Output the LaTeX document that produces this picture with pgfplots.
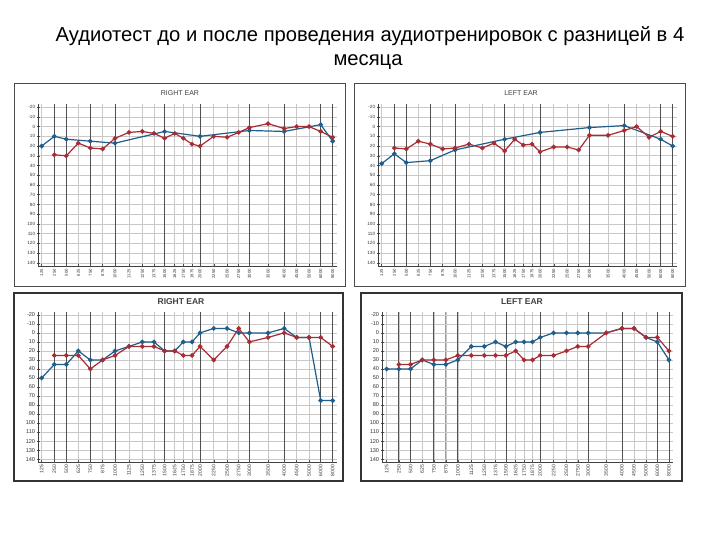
\documentclass[border=0pt]{standalone}
\usepackage{fontspec}
\setmainfont{Liberation Sans}
\usepackage{pgfplots}
\pgfplotsset{compat=1.18}
\usepackage{pgfplotstable}
\definecolor{cblue}{RGB}{31,94,140}
\definecolor{cred}{RGB}{168,44,52}
\definecolor{gridlight}{RGB}{200,200,200}
\definecolor{gridmed}{RGB}{155,155,155}
\definecolor{griddark}{RGB}{80,80,80}

% columns: x = position on the audiogram's frequency axis, blue / red = hearing level in dB
\pgfplotstableread{
x blue red
0     20  nan
1.04  10  29
2.03  13  30
3.02  nan 17
4.01  15  22
5.03  nan 23
6.05  17  12
7.2   nan 6
8.3   nan 5
9.26  nan 7
10.14 5   12
10.97 nan 7
11.68 nan 12
12.4  nan 18
13.06 10  20
14.19 nan 10
15.29 nan 11
16.25 nan 6
17.13 4   1
18.67 nan -3
20    5   2
21.03 nan 0
22.05 nan 0
23.01 -2  5
24    15  11
}\tabA

\pgfplotstableread{
x blue red
0     38  nan
1.04  28  22
2.03  37  23
3.02  nan 15
4.01  35  18
5.03  nan 23
6.05  24  22
7.2   nan 18
8.3   nan 22
9.26  nan 17
10.14 13  25
10.97 nan 13
11.68 nan 19
12.4  nan 18
13.06 6   26
14.19 nan 21
15.29 nan 21
16.25 nan 24
17.13 1   9
18.67 nan 9
20    -1  4
21.03 nan 0
22.05 nan 11
23.01 13  5
24    20  10
}\tabB

\pgfplotstableread{
x blue red
0     50  nan
1.04  35  25
2.03  35  25
3.02  20  25
4.01  30  40
5.03  30  30
6.05  20  25
7.2   15  15
8.3   10  15
9.26  10  15
10.14 20  20
10.97 20  20
11.68 10  25
12.4  10  25
13.06 0   15
14.19 -5  30
15.29 -5  15
16.25 0   -5
17.13 0   10
18.67 0   5
20    -5  0
21.03 5   5
22.05 5   5
23.01 75  5
24    75  15
}\tabC

\pgfplotstableread{
x blue red
0     40  nan
1.04  40  35
2.03  40  35
3.02  30  30
4.01  35  30
5.03  35  30
6.05  30  25
7.2   15  25
8.3   15  25
9.26  10  25
10.14 15  25
10.97 10  20
11.68 10  30
12.4  10  30
13.06 5   25
14.19 0   25
15.29 0   20
16.25 0   15
17.13 0   15
18.67 0   0
20    -5  -5
21.03 -5  -5
22.05 5   5
23.01 10  5
24    30  20
}\tabD

\pgfplotsset{
  audio/.style={
    scale only axis, anchor=south west,
    y dir=reverse, ymin=-23.2, ymax=143.2,
    ytick={-20,-10,0,10,20,30,40,50,60,70,80,90,100,110,120,130,140},
    yticklabels={-20,-10,0,10,20,30,40,50,60,70,80,90,100,110,120,130,140},
    xtick={0,1.04,2.03,3.02,4.01,5.03,6.05,7.2,8.3,9.26,10.14,10.97,11.68,12.4,13.06,14.19,15.29,16.25,17.13,18.67,20,21.03,22.05,23.01,24},
    xticklabels={125,250,500,625,750,875,1000,1125,1250,1375,1500,1625,1750,1875,2000,2250,2500,2750,3000,3500,4000,4500,5000,6000,8000},
    minor xtick={3.02,5.03,8.3},
    extra x ticks={1.04,2.03,4.01,6.05,10.14,13.06,17.13,20,23.01,24},
    extra x tick labels={},
    extra x tick style={grid=major, major grid style={griddark, line width=0.8pt}, tick style={griddark}},
    axis x line*=bottom, axis y line*=left,
    axis line style={-, black!75, line width=0.6pt},
    xmajorgrids, ymajorgrids, xminorgrids,
    major grid style={gridlight, line width=0.6pt},
    minor grid style={gridmed, line width=0.7pt},
    tick align=center, major tick length=3pt, minor tick length=3pt,
    tick style={black!70, line width=0.5pt},
    x tick label style={rotate=90, anchor=east, text=black!80, inner sep=1.5pt},
    y tick label style={text=black!80, inner sep=1.5pt},
  },
  bl/.style={cblue, line width=1.2pt, mark=*, mark size=1.7pt, mark options={solid}},
  rd/.style={cred, line width=1.2pt, mark=*, mark size=1.7pt, mark options={solid}},
}

\begin{document}
\begin{tikzpicture}[x=1pt,y=1pt]
\fill[white] (0,0) rectangle (720,540);
\path[use as bounding box] (0,0) rectangle (720,540);

\node at (370,503.5) {\fontsize{20.2}{24}\selectfont Аудиотест до и после проведения аудиотренировок с разницей в 4};
\node at (368,478) {\fontsize{20.2}{24}\selectfont месяца};

% panel frames
\draw[black!70, line width=0.8pt] (14,457) rectangle (345,254);
\draw[black!70, line width=0.8pt] (354,457) rectangle (685,254);
\draw[black!80, line width=1.2pt] (14,247) rectangle (343,59);
\draw[black!80, line width=1.2pt] (361,247) rectangle (682,59);

\node[text=black!75] at (180,447) {\fontsize{7}{8}\selectfont RIGHT EAR};
\node[text=black!75] at (521,447) {\fontsize{7}{8}\selectfont LEFT EAR};
\node[text=black!75] at (181,238) {\fontsize{8.5}{10}\selectfont\bfseries RIGHT EAR};
\node[text=black!75] at (522,238) {\fontsize{8.5}{10}\selectfont\bfseries LEFT EAR};

\begin{axis}[audio, at={(38.3pt,274pt)}, width=298.4pt, height=162pt,
  xmin=-0.28, xmax=24.33,
  x tick label style={font=\fontsize{4.2}{5}\selectfont},
  y tick label style={font=\fontsize{4.6}{5}\selectfont}]
\addplot[bl] table[x=x,y=blue]{\tabA};
\addplot[rd] table[x=x,y=red]{\tabA};
\end{axis}

\begin{axis}[audio, at={(378.3pt,274pt)}, width=298.4pt, height=162pt,
  xmin=-0.28, xmax=24.33,
  x tick label style={font=\fontsize{4.2}{5}\selectfont},
  y tick label style={font=\fontsize{4.6}{5}\selectfont}]
\addplot[bl] table[x=x,y=blue]{\tabB};
\addplot[rd] table[x=x,y=red]{\tabB};
\end{axis}

\begin{axis}[audio, at={(38.3pt,78pt)}, width=298.4pt, height=150pt,
  xmin=-0.28, xmax=24.33,
  x tick label style={font=\fontsize{5}{6}\selectfont},
  y tick label style={font=\fontsize{5.6}{6}\selectfont}]
\addplot[bl] table[x=x,y=blue]{\tabC};
\addplot[rd] table[x=x,y=red]{\tabC};
\end{axis}

\begin{axis}[audio, at={(382.3pt,78pt)}, width=291pt, height=150pt,
  xmin=-0.37, xmax=24.37,
  x tick label style={font=\fontsize{5}{6}\selectfont},
  y tick label style={font=\fontsize{5.6}{6}\selectfont}]
\addplot[bl] table[x=x,y=blue]{\tabD};
\addplot[rd] table[x=x,y=red]{\tabD};
\end{axis}
\end{tikzpicture}
\end{document}
